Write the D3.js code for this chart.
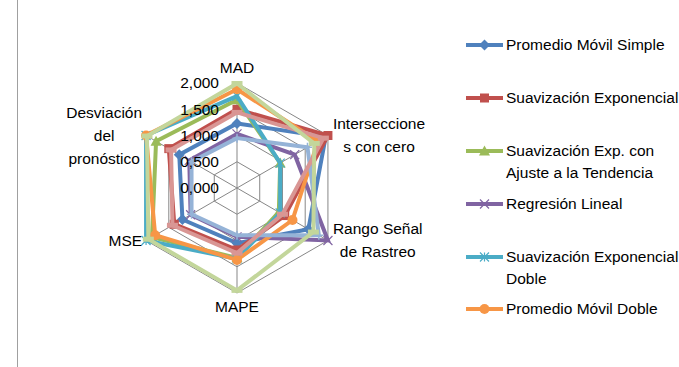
<!DOCTYPE html>
<html>
<head>
<meta charset="utf-8">
<script src="https://cdn.jsdelivr.net/npm/d3@7"></script>
<style>
  body { margin: 0; background: #fff; }
  text { font-family: "Liberation Sans", Arial, sans-serif; font-size: 15.5px; fill: #000; }
</style>
</head>
<body>
<div id="chart"></div>
<script>
// axes of the radar, clockwise from the top
var axes = ["MAD", "Intersecciones con cero", "Rango Señal de Rastreo", "MAPE", "MSE", "Desviación del pronóstico"];
// the same labels, wrapped like the reference
var axisLabelLines = [["MAD"], ["Interseccione", "s con cero"], ["Rango Señal", "de Rastreo"], ["MAPE"], ["MSE"], ["Desviación", "del", "pronóstico"]];
var ticks = [0, 0.5, 1, 1.5, 2];
var tickLabels = ["0,000", "0,500", "1,000", "1,500", "2,000"];

// series values (MAD, Intersecciones, Rango, MAPE, MSE, Desviación)
var promedioMovilSimple = [1.23, 1.95, 1.57, 1.05, 1.20, 1.27];
var suavExponencial = [1.50, 2.00, 1.05, 1.18, 1.38, 1.50];
var suavExpTendencia = [1.68, 0.95, 0.92, 1.33, 1.87, 1.78];
var regresionLineal = [1.03, 1.27, 2.00, 0.93, 1.02, 1.05];
var suavExpDoble = [1.75, 0.95, 0.95, 1.35, 2.00, 2.00];
var promedioMovilDoble = [1.88, 1.78, 1.22, 1.37, 1.80, 2.00];
var serie7 = [0.95, 1.55, 1.80, 0.90, 1.00, 1.00];
var serie8 = [1.44, 1.90, 1.00, 1.24, 1.42, 1.45];
var serie9 = [1.99, 1.70, 1.68, 1.95, 1.95, 1.98];

var seriesNames = ["Promedio Móvil Simple", "Suavización Exponencial", "Suavización Exp. con\nAjuste a la Tendencia",
    "Regresión Lineal", "Suavización Exponencial\nDoble", "Promedio Móvil Doble", "Serie 7", "Serie 8", "Serie 9"];
var seriesValues = [promedioMovilSimple, suavExponencial, suavExpTendencia, regresionLineal, suavExpDoble,
    promedioMovilDoble, serie7, serie8, serie9];
var colors = ["#4F81BD", "#C0504D", "#9BBB59", "#8064A2", "#4BACC6", "#F79646", "#95B3D7", "#D99694", "#C3D69B"];
var markers = ["diamond", "square", "triangle", "times", "asterisk", "circle", "plus", "dash", "dash"];
var legendCount = 6; // the legend only fits the first six

var width = 679, height = 367;
var cx = 237, cy = 188, R = 105;

var svg = d3.select("#chart").append("svg")
    .attr("width", width)
    .attr("height", height);

// chart area frame (only its left edge shows)
svg.append("line")
    .attr("x1", 17.5).attr("x2", 17.5)
    .attr("y1", 0).attr("y2", height)
    .style("stroke", "#a0a0a0").style("stroke-width", 1);

var r = d3.scaleLinear().domain([0, 2]).range([0, R]);
var angle = function (i) { return i * 2 * Math.PI / axes.length; };
var px = function (i, v) { return cx + r(v) * Math.sin(angle(i)); };
var py = function (i, v) { return cy - r(v) * Math.cos(angle(i)); };

var radial = d3.lineRadial()
    .angle(function (d, i) { return angle(i); })
    .radius(function (d) { return r(d); })
    .curve(d3.curveLinearClosed);

var g = svg.append("g").attr("transform", "translate(" + cx + "," + cy + ")");

// grid rings
g.selectAll(".ring")
    .data(ticks.filter(function (t) { return t > 0; }))
    .enter().append("path")
    .attr("d", function (t) { return radial(axes.map(function () { return t; })); })
    .style("fill", "none").style("stroke", "#878787").style("stroke-width", 1);

// spokes
g.selectAll(".spoke")
    .data(axes)
    .enter().append("line")
    .attr("x1", 0).attr("y1", 0)
    .attr("x2", function (d, i) { return px(i, 2) - cx; })
    .attr("y2", function (d, i) { return py(i, 2) - cy; })
    .style("stroke", "#878787").style("stroke-width", 1);

// marker drawing
function drawMarker(sel, type, color, size) {
    var s = size / 2;
    if (type === "diamond") {
        sel.append("path").attr("d", "M0," + (-s - 1) + "L" + (s + 1) + ",0L0," + (s + 1) + "L" + (-s - 1) + ",0Z")
            .style("fill", color);
    } else if (type === "square") {
        sel.append("rect").attr("x", -s).attr("y", -s).attr("width", size).attr("height", size)
            .style("fill", color);
    } else if (type === "triangle") {
        sel.append("path").attr("d", "M0," + (-s - 1) + "L" + (s + 1) + "," + s + "L" + (-s - 1) + "," + s + "Z")
            .style("fill", color);
    } else if (type === "times") {
        sel.append("path").attr("d", "M" + (-s) + "," + (-s) + "L" + s + "," + s + "M" + s + "," + (-s) + "L" + (-s) + "," + s)
            .style("stroke", color).style("stroke-width", 1.2).style("fill", "none");
    } else if (type === "asterisk") {
        sel.append("path").attr("d", "M" + (-s) + "," + (-s) + "L" + s + "," + s + "M" + s + "," + (-s) + "L" + (-s) + "," + s + "M0," + (-s) + "L0," + s)
            .style("stroke", color).style("stroke-width", 1.2).style("fill", "none");
    } else if (type === "circle") {
        sel.append("circle").attr("r", s + 0.5).style("fill", color);
    } else if (type === "plus") {
        sel.append("path").attr("d", "M" + (-s) + ",0L" + s + ",0M0," + (-s) + "L0," + s)
            .style("stroke", color).style("stroke-width", 1.5).style("fill", "none");
    } else if (type === "dash") {
        sel.append("rect").attr("x", -s - 1).attr("y", -2.5).attr("width", size + 2).attr("height", 5)
            .style("fill", color);
    }
}

// series
seriesValues.forEach(function (vals, k) {
    var sg = g.append("g");
    sg.append("path")
        .attr("d", radial(vals))
        .style("fill", "none")
        .style("stroke", colors[k])
        .style("stroke-width", 4)
        .style("stroke-linejoin", "miter");
    vals.forEach(function (v, i) {
        var m = sg.append("g").attr("transform", "translate(" + (px(i, v) - cx) + "," + (py(i, v) - cy) + ")");
        drawMarker(m, markers[k], colors[k], 9);
    });
});

// tick labels
svg.selectAll(".tick")
    .data(ticks)
    .enter().append("text")
    .attr("x", 219)
    .attr("y", function (t) { return cy - r(t); })
    .attr("dy", "0.35em")
    .attr("text-anchor", "end")
    .text(function (t, i) { return tickLabels[i]; });

// axis labels
var lineH = 23;
axisLabelLines.forEach(function (lines, i) {
    var vx = px(i, 2), vy = py(i, 2);
    var t = svg.append("text").attr("text-anchor", "middle");
    var spans = lines.map(function (l) { return t.append("tspan").text(l); });
    var w = d3.max(spans, function (s) { return s.node().getComputedTextLength(); });
    var x, yc;
    if (i === 0) { x = vx; yc = vy - 15; }
    else if (i === 3) { x = vx; yc = vy + 14; }
    else if (i === 1 || i === 2) { x = vx + 5 + w / 2; yc = vy; }
    else { x = vx - 4 - w / 2; yc = vy; }
    var y0 = yc - (lines.length - 1) * lineH / 2;
    spans.forEach(function (s, j) {
        s.attr("x", x).attr("y", y0 + j * lineH).attr("dy", "0.35em");
    });
});

// legend
var rowY = [45, 98, 151, 204, 257, 309];
for (var k = 0; k < legendCount; k++) {
    var lg = svg.append("g").attr("transform", "translate(0," + rowY[k] + ")");
    lg.append("line").attr("x1", 466).attr("x2", 503).attr("y1", 0).attr("y2", 0)
        .style("stroke", colors[k]).style("stroke-width", 4);
    drawMarker(lg.append("g").attr("transform", "translate(484.5,0)"), markers[k], colors[k], 9);
    var lt = lg.append("text").attr("x", 506);
    seriesNames[k].split("\n").forEach(function (l, j) {
        lt.append("tspan").attr("x", 506).attr("y", j * 21.5).attr("dy", "0.35em").text(l);
    });
}
</script>
</body>
</html>
